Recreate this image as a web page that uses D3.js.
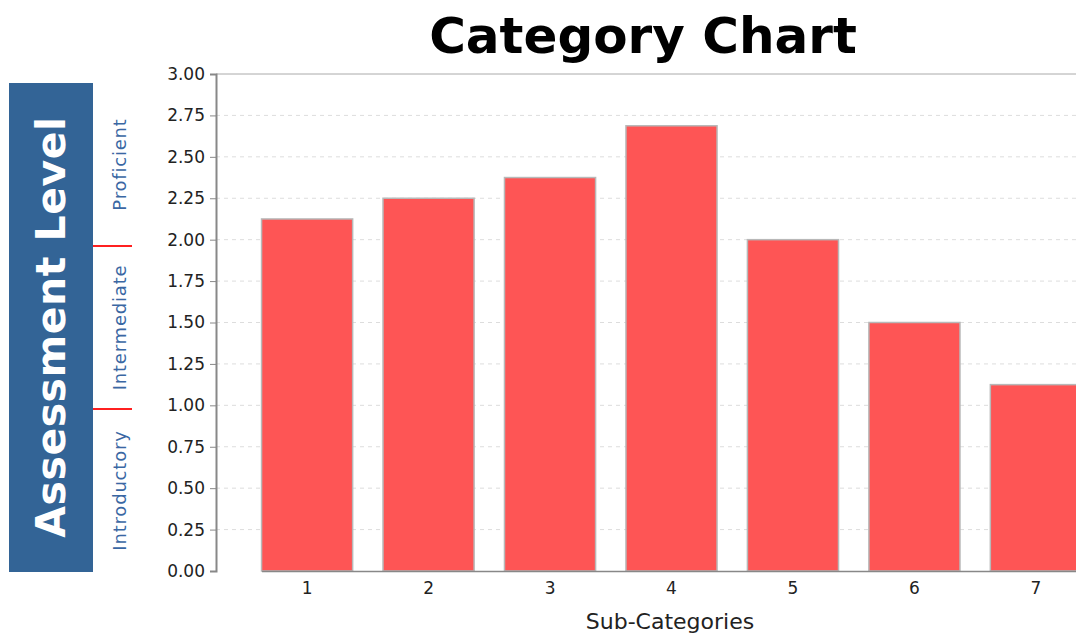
<!DOCTYPE html>
<html>
<head>
<meta charset="utf-8">
<script src="https://cdn.jsdelivr.net/npm/d3@7"></script>
<style>
	body { margin: 0; background: #fff; }
	text { font-family: "DejaVu Sans", sans-serif; }
</style>
</head>
<body>
<script>
// chart values
var categories = ["1", "2", "3", "4", "5", "6", "7"];
var values = [2.125, 2.25, 2.375, 2.6875, 2.0, 1.5, 1.125];
var yTicks = [0, 0.25, 0.5, 0.75, 1, 1.25, 1.5, 1.75, 2, 2.25, 2.5, 2.75, 3];
var levels = [{name: "Introductory", lo: 0, hi: 1},
			{name: "Intermediate", lo: 1, hi: 2},
			{name: "Proficient", lo: 2, hi: 3}];

var W = 1076, H = 637;
var margin = {top: 74, left: 216, bottom: 66};
var plotW = 911, plotH = H - margin.top - margin.bottom;

var svg = d3.select("body").append("svg")
	.attr("width", W)
	.attr("height", H);

// title
svg.append("text")
	.attr("x", 643)
	.attr("y", 53)
	.attr("text-anchor", "middle")
	.style("font-size", "50px")
	.style("font-weight", "bold")
	.text("Category Chart");

var g = svg.append("g")
	.attr("transform", "translate(" + margin.left + "," + margin.top + ")");

// 5% margins each side, 20% of width shared between gaps
var x = d3.scaleBand()
	.domain(categories)
	.range([plotW * 0.05, plotW * 0.95])
	.paddingInner(0.25);

var y = d3.scaleLinear()
	.domain([0, 3])
	.range([plotH, 0]);

// gridlines
g.selectAll("line.grid")
	.data(yTicks.slice(1))
	.enter().append("line")
		.attr("class", "grid")
		.attr("x1", 0)
		.attr("x2", plotW)
		.attr("y1", function(d) { return y(d); })
		.attr("y2", function(d) { return y(d); })
		.attr("stroke", function(d) { return d === 3 ? "#aaa" : "#ddd"; })
		.attr("stroke-width", 1)
		.attr("stroke-dasharray", function(d) { return d === 3 ? null : "4,4"; });

// bars
g.selectAll("rect.bar")
	.data(values)
	.enter().append("rect")
		.attr("class", "bar")
		.attr("x", function(d, i) { return x(categories[i]); })
		.attr("width", x.bandwidth())
		.attr("y", function(d) { return y(d); })
		.attr("height", function(d) { return plotH - y(d); })
		.attr("fill", "#fe5555")
		.attr("stroke", "#b8b8b8")
		.attr("stroke-width", 1.5);

// y axis
var yAxis = g.append("g")
	.call(d3.axisLeft(y).tickValues(yTicks).tickFormat(d3.format(".2f")).tickSize(6).tickPadding(5));
yAxis.select(".domain").attr("stroke", "#888").attr("stroke-width", 2);
yAxis.selectAll(".tick line").attr("stroke", "#888");
yAxis.selectAll("text")
	.style("font-size", "17px")
	.attr("fill", "#222");

// x axis
var xAxis = g.append("g")
	.attr("transform", "translate(0," + plotH + ")")
	.call(d3.axisBottom(x).tickSize(0).tickPadding(11));
xAxis.select(".domain").attr("stroke", "#888").attr("stroke-width", 1.5);
xAxis.selectAll("text")
	.style("font-size", "17px")
	.attr("fill", "#222");

svg.append("text")
	.attr("x", 670)
	.attr("y", 629)
	.attr("text-anchor", "middle")
	.style("font-size", "22px")
	.attr("fill", "#222")
	.text("Sub-Categories");

// assessment level panel, split into thirds
var panel = {x: 9, y: 83, w: 84, h: 489};
var ly = d3.scaleLinear()
	.domain([0, 3])
	.range([panel.y + panel.h, panel.y]);

svg.append("rect")
	.attr("x", panel.x)
	.attr("y", panel.y)
	.attr("width", panel.w)
	.attr("height", panel.h)
	.attr("fill", "#336496");

svg.append("text")
	.attr("transform", "translate(65,327) rotate(-90)")
	.attr("text-anchor", "middle")
	.attr("fill", "#fff")
	.style("font-size", "41px")
	.style("font-weight", "bold")
	.style("letter-spacing", "0.5px")
	.text("Assessment Level");

svg.selectAll("text.level")
	.data(levels)
	.enter().append("text")
		.attr("class", "level")
		.attr("transform", function(d) {
			return "translate(126," + (ly(d.lo) + ly(d.hi)) / 2 + ") rotate(-90)";
		})
		.attr("text-anchor", "middle")
		.attr("fill", "#3a67a3")
		.style("font-size", "18px")
		.style("letter-spacing", "0.8px")
		.text(function(d) { return d.name; });

svg.selectAll("line.sep")
	.data([1, 2])
	.enter().append("line")
		.attr("class", "sep")
		.attr("x1", panel.x + panel.w)
		.attr("x2", 132)
		.attr("y1", function(d) { return ly(d); })
		.attr("y2", function(d) { return ly(d); })
		.attr("stroke", "#ff2020")
		.attr("stroke-width", 2);
</script>
</body>
</html>
